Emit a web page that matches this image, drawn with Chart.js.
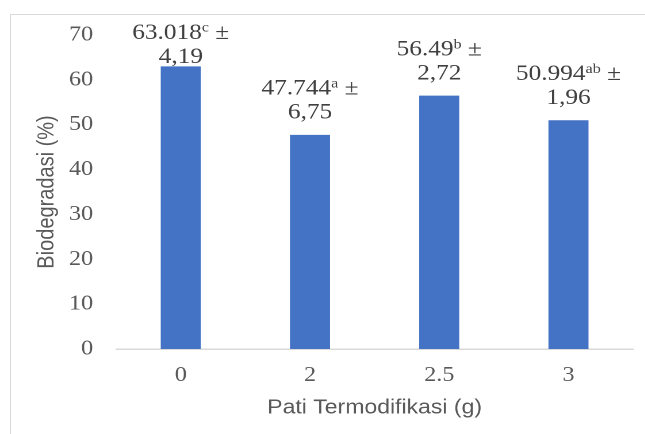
<!DOCTYPE html>
<html>
<head>
<meta charset="utf-8">
<script src="https://cdn.jsdelivr.net/npm/chart.js@4/dist/chart.umd.min.js"></script>
<style>
  html, body { margin:0; padding:0; background:#ffffff; overflow:hidden; width:645px; height:434px; }
  #frame { position:absolute; left:10px; top:14px; width:700px; height:500px;
           border-left:1.5px solid #d9d9d9; border-top:1.5px solid #d9d9d9; }
  #wrap { position:absolute; left:0; top:0; width:561px; height:434px;
          transform:scaleX(1.15); transform-origin:0 0; }
</style>
</head>
<body>
<div id="frame"></div>
<div id="wrap"><canvas id="c"></canvas></div>
<script>
// ---- data ----
const categories = ['0', '2', '2.5', '3'];
const biodegradasi = [63.018, 47.744, 56.49, 50.994];
const labelMain = ['63.018', '47.744', '56.49', '50.994'];
const labelSup = ['c', 'a', 'b', 'ab'];
const labelSD = ['4,19', '6,75', '2,72', '1,96'];
const yTicks = [0, 10, 20, 30, 40, 50, 60, 70];

const serif = '"Liberation Serif", "Times New Roman", serif';
const sans = '"Liberation Sans", Arial, sans-serif';

const labelPlugin = {
  id: 'barLabels',
  afterDatasetsDraw(chart) {
    const ctx = chart.ctx;
    const meta = chart.getDatasetMeta(0);
    ctx.save();
    ctx.fillStyle = '#404040';
    ctx.textBaseline = 'middle';
    meta.data.forEach((bar, i) => {
      const x = bar.x;
      let y1 = bar.y - 46;
      if (y1 < 33) y1 = 33;
      const y2 = y1 + 24;
      const mainFont = '22px ' + serif;
      const supFont = '14px ' + serif;
      ctx.font = mainFont;
      const wMain = ctx.measureText(labelMain[i]).width;
      const wPm = ctx.measureText(' \u00B1').width;
      ctx.font = supFont;
      const wSup = ctx.measureText(labelSup[i]).width;
      const total = wMain + wSup + wPm;
      let sx = x - total / 2;
      ctx.textAlign = 'left';
      ctx.font = mainFont;
      ctx.fillText(labelMain[i], sx, y1);
      sx += wMain;
      ctx.font = supFont;
      ctx.fillText(labelSup[i], sx, y1 - 5);
      sx += wSup;
      ctx.font = mainFont;
      ctx.fillText(' \u00B1', sx, y1);
      ctx.textAlign = 'center';
      ctx.fillText(labelSD[i], x, y2);
    });
    ctx.restore();
  }
};

new Chart(document.getElementById('c'), {
  type: 'bar',
  data: {
    labels: categories,
    datasets: [{
      data: biodegradasi,
      backgroundColor: '#4472C4',
      borderWidth: 0,
      barPercentage: 0.31,
      categoryPercentage: 1.0
    }]
  },
  options: {
    responsive: true,
    maintainAspectRatio: false,
    devicePixelRatio: 2,
    animation: false,
    layout: { padding: { left: 0, right: 10.5, top: 35, bottom: 0 } },
    plugins: { legend: { display: false }, tooltip: { enabled: false } },
    scales: {
      x: {
        grid: { display: false, drawTicks: false },
        border: { display: true, color: '#d9d9d9', width: 1.5 },
        ticks: { color: '#595959', font: { family: serif, size: 21 }, padding: 14, maxRotation: 0 },
        title: { display: true, text: 'Pati Termodifikasi (g)', color: '#595959',
                 font: { family: sans, size: 20, lineHeight: 1.2 }, padding: { top: 0, bottom: 14 } },
        afterFit(scale) { scale.height = 85; }
      },
      y: {
        min: 0, max: 70,
        afterBuildTicks(scale) { scale.ticks = yTicks.map(v => ({ value: v })); },
        grid: { display: false, drawTicks: false },
        border: { display: false },
        ticks: { color: '#595959', font: { family: serif, size: 21 }, padding: 20 },
        title: { display: true, text: 'Biodegradasi (%)', color: '#595959',
                 font: { family: sans, size: 20, lineHeight: 1.2 }, padding: { top: 29, bottom: 0 } },
        afterFit(scale) { scale.width = 101; }
      }
    }
  },
  plugins: [labelPlugin]
});
</script>
</body>
</html>
